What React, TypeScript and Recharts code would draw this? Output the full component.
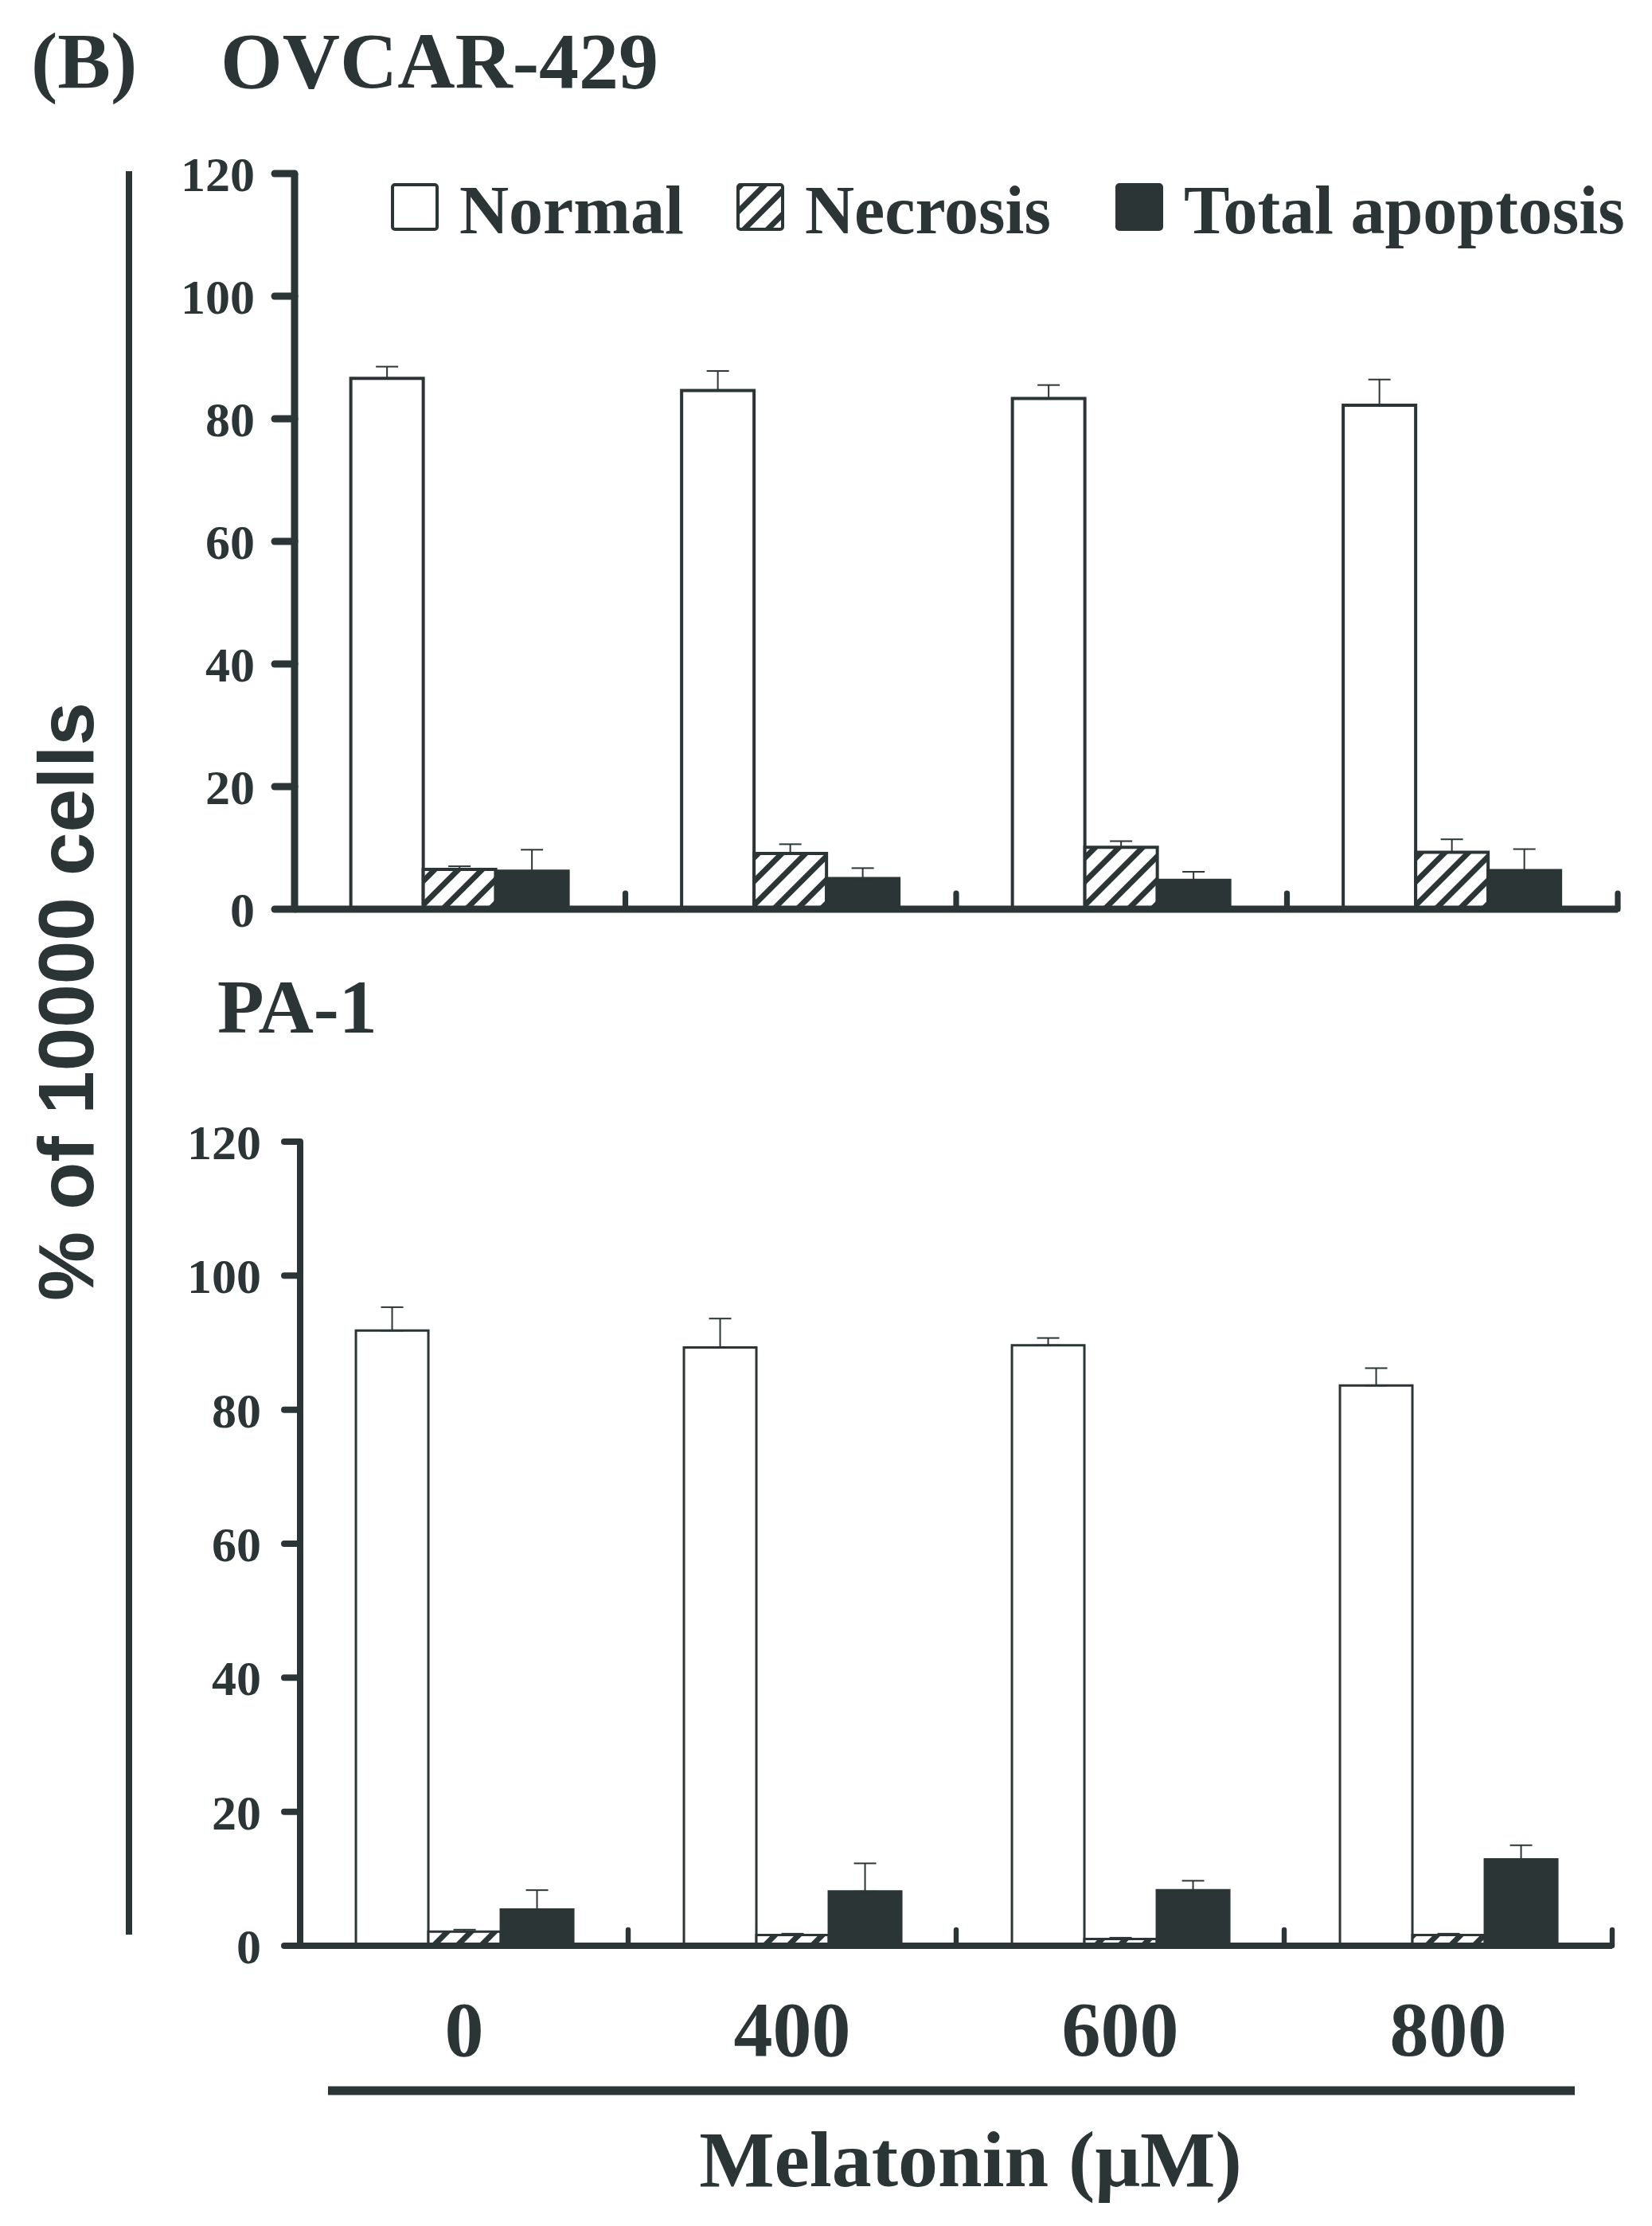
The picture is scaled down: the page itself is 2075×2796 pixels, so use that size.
import React from 'react';
import { BarChart, Bar, XAxis, YAxis, ErrorBar, Legend } from 'recharts';

const CATEGORIES = ['0', '400', '600', '800'];
const Y_TICKS = [0, 20, 40, 60, 80, 100, 120];
const SERIES_NAMES = ['Normal', 'Necrosis', 'Total apoptosis'];

// OVCAR-429
const OVCAR_NORMAL = [86.6, 84.6, 83.3, 82.2];
const OVCAR_NORMAL_ERR = [1.9, 3.2, 2.2, 4.2];
const OVCAR_NECROSIS = [6.5, 9.1, 10.1, 9.3];
const OVCAR_NECROSIS_ERR = [0.5, 1.5, 1.0, 2.1];
const OVCAR_APOPTOSIS = [6.2, 5.0, 4.7, 6.3];
const OVCAR_APOPTOSIS_ERR = [3.5, 1.7, 1.4, 3.5];

// PA-1
const PA1_NORMAL = [91.8, 89.3, 89.6, 83.6];
const PA1_NORMAL_ERR = [3.5, 4.3, 1.1, 2.6];
const PA1_NECROSIS = [2.1, 1.6, 1.0, 1.6];
const PA1_NECROSIS_ERR = [0.3, 0.2, 0.2, 0.2];
const PA1_APOPTOSIS = [5.4, 8.1, 8.3, 12.9];
const PA1_APOPTOSIS_ERR = [2.9, 4.2, 1.4, 2.1];

const INK = '#2b3535';
const SERIF = "'Liberation Serif', 'Times New Roman', serif";
const SANS = "'Liberation Sans', Arial, sans-serif";
const SERIES_FILLS = ['#ffffff', 'url(#hatch)', INK];
const X_TICK_MARGIN = 68;

function buildRows(
  normal: number[], normalErr: number[],
  necrosis: number[], necrosisErr: number[],
  apoptosis: number[], apoptosisErr: number[]
) {
  return CATEGORIES.map((dose, i) => ({
    dose,
    normal: normal[i],
    normalErr: [0, normalErr[i]],
    necrosis: necrosis[i],
    necrosisErr: [0, necrosisErr[i]],
    apoptosis: apoptosis[i],
    apoptosisErr: [0, apoptosisErr[i]],
  }));
}

const OVCAR_ROWS = buildRows(OVCAR_NORMAL, OVCAR_NORMAL_ERR, OVCAR_NECROSIS, OVCAR_NECROSIS_ERR, OVCAR_APOPTOSIS, OVCAR_APOPTOSIS_ERR);
const PA1_ROWS = buildRows(PA1_NORMAL, PA1_NORMAL_ERR, PA1_NECROSIS, PA1_NECROSIS_ERR, PA1_APOPTOSIS, PA1_APOPTOSIS_ERR);

const LEGEND_X = [493, 927, 1403];

function LegendContent(props: any) {
  const payload: any[] = props.payload || [];
  return (
    <svg width={2075} height={320} style={{ display: 'block', overflow: 'visible' }}>
      {SERIES_NAMES.map((name, i) => {
        const entry = payload.find((e) => e && e.value === name);
        const label = entry ? entry.value : name;
        const x = LEGEND_X[i];
        return (
          <g key={name}>
            <rect x={x} y={232} width={56} height={56} rx={3} fill={SERIES_FILLS[i]} stroke={INK} strokeWidth={4} />
            <text x={x + 84} y={293} fontFamily={SERIF} fontWeight="bold" fontSize={86} fill={INK}>
              {label}
            </text>
          </g>
        );
      })}
    </svg>
  );
}

function makeXTick(showLabel: boolean, edgeWidth: number) {
  return function XTick(props: any) {
    const { x, y, payload, width, visibleTicksCount } = props;
    const half =
      payload && typeof payload.offset === 'number' && payload.offset > 0
        ? payload.offset
        : width / (visibleTicksCount || CATEGORIES.length) / 2;
    const axisY = y - X_TICK_MARGIN;
    const edgeX = x + half;
    return (
      <g>
        <line
          x1={edgeX}
          y1={axisY}
          x2={edgeX}
          y2={axisY - 20}
          stroke={INK}
          strokeWidth={edgeWidth}
          strokeLinecap="round"
        />
        {showLabel && (
          <text
            x={x}
            y={y}
            dy="0.71em"
            textAnchor="middle"
            fontFamily={SERIF}
            fontWeight="bold"
            fontSize={98}
            fill={INK}
          >
            {payload.value}
          </text>
        )}
      </g>
    );
  };
}

type PanelProps = {
  rows: any[];
  height: number;
  marginTop: number;
  marginRight: number;
  yWidth: number;
  yTickSize: number;
  yTickMargin: number;
  axisWidth: number;
  barStroke: number;
  xAxisHeight: number;
  showXLabels: boolean;
  showLegend: boolean;
};

function Panel(p: PanelProps) {
  const XTick = makeXTick(p.showXLabels, p.axisWidth * 0.8);
  return (
    <BarChart
      width={2075}
      height={p.height}
      data={p.rows}
      margin={{ top: p.marginTop, right: p.marginRight, left: 0, bottom: 0 }}
      barCategoryGap="17%"
      barGap={0}
    >
      <XAxis
        dataKey="dose"
        height={p.xAxisHeight}
        axisLine={{ stroke: INK, strokeWidth: p.axisWidth }}
        tickLine={false}
        tickSize={0}
        tickMargin={X_TICK_MARGIN}
        interval={0}
        tick={XTick}
      />
      <YAxis
        domain={[0, 120]}
        ticks={Y_TICKS}
        interval={0}
        width={p.yWidth}
        tickSize={p.yTickSize}
        tickMargin={p.yTickMargin}
        axisLine={{ stroke: INK, strokeWidth: p.axisWidth }}
        tickLine={{ stroke: INK, strokeWidth: p.axisWidth, strokeLinecap: 'round' }}
        tick={{ fill: INK, fontSize: 62, fontFamily: SERIF, fontWeight: 'bold' }}
        allowDataOverflow
      />
      {p.showLegend && (
        <Legend
          layout="horizontal"
          verticalAlign="middle"
          align="center"
          wrapperStyle={{ left: 0, top: 0, width: 2075, height: 320 }}
          content={LegendContent}
        />
      )}
      <Bar dataKey="normal" name={SERIES_NAMES[0]} fill={SERIES_FILLS[0]} stroke={INK} strokeWidth={p.barStroke} isAnimationActive={false}>
        <ErrorBar dataKey="normalErr" direction="y" width={14} stroke={INK} strokeWidth={2} isAnimationActive={false} />
      </Bar>
      <Bar dataKey="necrosis" name={SERIES_NAMES[1]} fill={SERIES_FILLS[1]} stroke={INK} strokeWidth={p.barStroke} isAnimationActive={false}>
        <ErrorBar dataKey="necrosisErr" direction="y" width={14} stroke={INK} strokeWidth={2} isAnimationActive={false} />
      </Bar>
      <Bar dataKey="apoptosis" name={SERIES_NAMES[2]} fill={SERIES_FILLS[2]} stroke={INK} strokeWidth={p.barStroke} isAnimationActive={false}>
        <ErrorBar dataKey="apoptosisErr" direction="y" width={14} stroke={INK} strokeWidth={2} isAnimationActive={false} />
      </Bar>
    </BarChart>
  );
}

export default function App() {
  return (
    <div style={{ position: 'absolute', left: 0, top: 0, width: 2075, height: 2796, background: '#fff', overflow: 'hidden' }}>
      <svg width={2075} height={2796} style={{ position: 'absolute', left: 0, top: 0 }}>
        <defs>
          <pattern id="hatch" patternUnits="userSpaceOnUse" width={21} height={21} patternTransform="rotate(45)">
            <rect x={0} y={0} width={21} height={21} fill="#ffffff" />
            <rect x={0} y={0} width={7} height={21} fill={INK} />
          </pattern>
        </defs>
      </svg>
      <div style={{ position: 'absolute', left: 0, top: 0 }}>
        <Panel
          rows={OVCAR_ROWS}
          height={1200}
          marginTop={218}
          marginRight={43}
          yWidth={370}
          yTickSize={25}
          yTickMargin={25}
          axisWidth={9}
          barStroke={4}
          xAxisHeight={58}
          showXLabels={false}
          showLegend={true}
        />
      </div>
      <div style={{ position: 'absolute', left: 0, top: 1350 }}>
        <Panel
          rows={PA1_ROWS}
          height={1300}
          marginTop={84}
          marginRight={50}
          yWidth={377}
          yTickSize={20}
          yTickMargin={29}
          axisWidth={8}
          barStroke={3}
          xAxisHeight={206}
          showXLabels={true}
          showLegend={false}
        />
      </div>
      <svg width={2075} height={2796} style={{ position: 'absolute', left: 0, top: 0, pointerEvents: 'none' }}>
        <text x={39} y={110} fontFamily={SERIF} fontWeight="bold" fontSize={100} fill={INK}>(B)</text>
        <text x={277} y={110} fontFamily={SERIF} fontWeight="bold" fontSize={100} fill={INK}>OVCAR-429</text>
        <text x={273} y={1297} fontFamily={SERIF} fontWeight="bold" fontSize={96} fill={INK}>PA-1</text>
        <text
          x={117}
          y={1258}
          transform="rotate(-90 117 1258)"
          textAnchor="middle"
          fontFamily={SANS}
          fontWeight="bold"
          fontSize={98}
          fill={INK}
        >
          % of 10000 cells
        </text>
        <line x1={162} y1={215} x2={162} y2={2430} stroke={INK} strokeWidth={8} />
        <line x1={412} y1={2626} x2={1978} y2={2626} stroke={INK} strokeWidth={11} />
        <text x={1219} y={2746} textAnchor="middle" fontFamily={SERIF} fontWeight="bold" fontSize={100} fill={INK}>
          Melatonin (μM)
        </text>
      </svg>
    </div>
  );
}
